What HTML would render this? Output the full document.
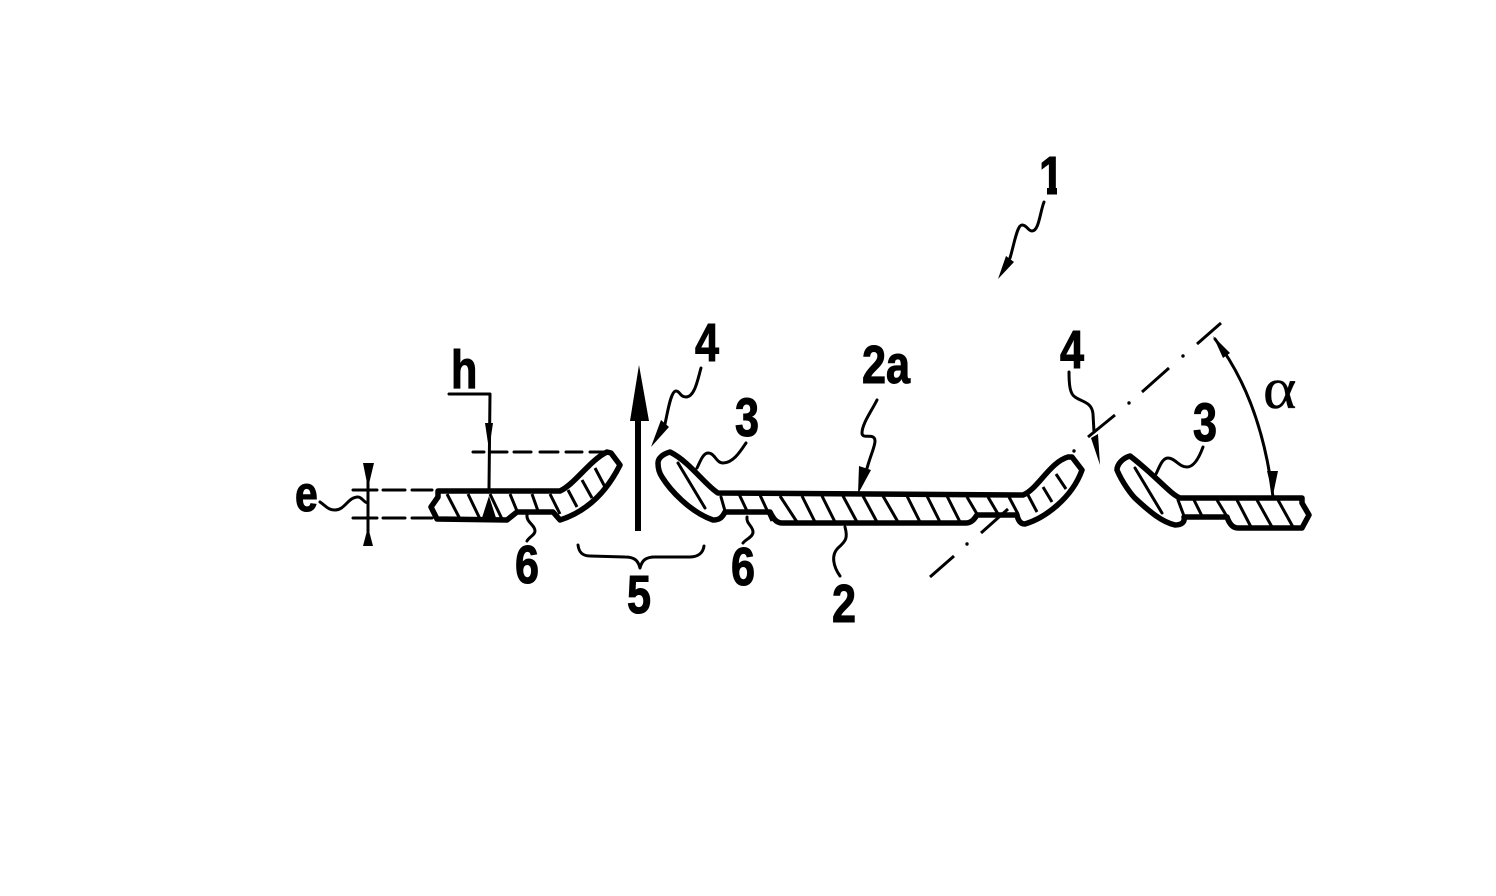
<!DOCTYPE html>
<html>
<head>
<meta charset="utf-8">
<style>
html,body{margin:0;padding:0;background:#fff;width:1496px;height:896px;overflow:hidden}
svg{display:block}
text{font-family:"Liberation Sans",sans-serif;font-weight:bold;fill:#000;stroke:#000;stroke-width:1.1}
.o{fill:none;stroke:#000;stroke-width:5.5;stroke-linejoin:round;stroke-linecap:round}
.h{fill:none;stroke:#000;stroke-width:3}
.t{fill:none;stroke:#000;stroke-width:3;stroke-linecap:round;stroke-linejoin:round}
.c{fill:none;stroke:#000;stroke-width:3}
</style>
</head>
<body>
<svg width="1496" height="896" viewBox="0 0 1496 896" xmlns="http://www.w3.org/2000/svg">
<rect width="1496" height="896" fill="#fff"/>

<!-- Labels -->
<text transform="translate(1039,194) scale(.82,1)" font-size="54">1</text>
<rect x="1030" y="184" width="17" height="14" fill="#fff"/>
<rect x="1057" y="184" width="12" height="14" fill="#fff"/>
<text transform="translate(451,388) scale(.8,1)" font-size="54">h</text>
<text transform="translate(295,511) scale(.82,1)" font-size="50">e</text>
<text transform="translate(515,583) scale(.8,1)" font-size="54">6</text>
<text transform="translate(731,585) scale(.8,1)" font-size="54">6</text>
<text transform="translate(627,613) scale(.8,1)" font-size="54">5</text>
<text transform="translate(832,622) scale(.8,1)" font-size="54">2</text>
<text transform="translate(862,383) scale(.8,1)" font-size="54">2a</text>
<text transform="translate(695,361) scale(.8,1)" font-size="54">4</text>
<text transform="translate(1060,368) scale(.8,1)" font-size="54">4</text>
<text transform="translate(735,436) scale(.8,1)" font-size="54">3</text>
<text transform="translate(1193,441) scale(.8,1)" font-size="54">3</text>
<text transform="translate(1263,408) scale(1.1,1)" font-size="58" style="font-family:'Liberation Serif',serif;font-weight:normal;stroke-width:.4">α</text>

<!-- Left piece -->
<path class="o" d="M438,491 L560,491 C575,484 590,460 607,452 L611,453 L620,465 C605,495 585,512 560,520 L553,512 L517,512 L507,520 L437,519 L431,507 L438,497 Z"/>
<g class="h">
<path d="M447,494 L460,519"/><path d="M468,494 L480,519"/><path d="M490,494 L502,519"/>
<path d="M510,494 L517,511"/><path d="M532,494 L538,511"/><path d="M550,494 L560,514"/>
<path d="M568,490 L577,507"/><path d="M582,480 L592,498"/><path d="M595,468 L605,487"/>
</g>

<!-- Main centre piece -->
<path class="o" d="M670,452 C663,454 658,458 658,463 C658,470 660,474 662,477 C670,490 690,512 713,520 C719,520 722,518 725,512 L770,512 C773,518 776,523 782,523 L966,523 C972,523 975,518 977,515 L1017,515 C1018,520 1020,524 1025,524 C1045,518 1072,498 1082,470 L1072,457 L1068,457 C1050,462 1037,490 1023,495 L718,493 C705,485 690,462 670,452 Z"/>
<path class="t" d="M678,463 L705,508"/>
<path class="t" d="M721,497 L725,511"/>
<g class="h">
<path d="M739,494 L747,511"/><path d="M760,495 L772,521"/>
<path d="M780,496 L797,522"/><path d="M802,496 L815,522"/><path d="M822,496 L835,522"/>
<path d="M843,496 L857,522"/><path d="M863,496 L877,522"/><path d="M883,496 L898,522"/>
<path d="M907,496 L920,522"/><path d="M927,496 L940,522"/><path d="M947,496 L960,522"/>
<path d="M967,497 L977,514"/><path d="M988,497 L998,514"/><path d="M1009,497 L1018,514"/>
<path d="M1028,495 L1037,512"/><path d="M1043,487 L1052,502"/><path d="M1056,474 L1066,489"/>
</g>

<!-- Right piece -->
<path class="o" d="M1130,456 C1123,458 1117,464 1117,470 C1122,482 1132,496 1137,500 C1150,512 1162,522 1175,525 C1182,525 1185,522 1184,517 L1227,517 C1229,523 1232,528 1238,528 L1302,528 L1309,515 L1302,503 L1302,498 L1180,498 C1170,494 1155,475 1130,456 Z"/>
<path class="t" d="M1135,468 L1162,513"/>
<path class="t" d="M1178,500 L1184,516"/>
<g class="h">
<path d="M1194,500 L1202,516"/><path d="M1217,500 L1229,520"/><path d="M1237,500 L1251,527"/>
<path d="M1257,500 L1272,527"/><path d="M1278,500 L1293,527"/>
</g>

<!-- h dimension -->
<path class="t" d="M449,394 L490,394 L489,488"/>
<path d="M485,423 L493,423 L489,450 Z" fill="#000"/>
<path d="M489,496 L497,521 L481,521 Z" fill="#000"/>
<path class="t" d="M473,452 h11 M491,452 h16 M514,452 h17 M540,452 h18 M566,452 h16 M590,452 h14"/>

<!-- e dimension -->
<path class="t" d="M368,470 L368,540"/>
<path d="M363,463 L374,463 L368,488 Z" fill="#000"/>
<path d="M368,527 L373,546 L363,546 Z" fill="#000"/>
<path class="t" d="M353,490 h24 M383,490 h22 M412,490 h20 M353,518 h24 M383,518 h22 M412,518 h20"/>
<path class="t" d="M320,502 C326,506 328,510 335,510 C345,510 348,497 358,497 C362,497 364,503 368,503"/>

<!-- Large flow arrow -->
<path d="M635,421 L641,421 L641,531 L635,531 Z" fill="#000"/>
<path d="M639,365 L649,421 L630,421 Z" fill="#000"/>

<!-- Brace 5 -->
<path class="t" d="M578,545 C579,553 583,556 590,556 L625,557 C634,557 638,560 640,568 C642,560 646,557 655,557 L690,557 C698,557 703,553 704,546"/>

<!-- Squiggle leaders -->
<path class="t" d="M527,515 C526,522 535,525 535,531 C535,535 529,537 527,541"/>
<path class="t" d="M747,517 C746,524 753,526 753,532 C753,537 746,539 743,543"/>
<path class="t" d="M746,443 C740,452 733,463 723,463 C716,463 715,453 708,453 C703,453 700,462 697,468"/>
<path class="t" d="M1203,447 C1199,458 1194,467 1187,467 C1179,467 1175,458 1168,458 C1162,458 1159,468 1156,474"/>
<path class="t" d="M845,527 C848,538 846,541 838,548 C831,555 833,566 840,576"/>
<path class="t" d="M877,400 C871,412 862,424 862,433 C862,440 875,432 875,441 C875,447 870,456 866,472"/>
<path d="M858,494 L859,466 L871,470 Z" fill="#000"/>
<path class="t" d="M701,368 C698,378 695,397 686,397 C680,397 680,391 676,391 C671,391 668,410 665,424"/>
<path d="M651,447 L661,420 L669,427 Z" fill="#000"/>
<path class="t" d="M1044,202 C1040,212 1039,231 1032,231 C1028,231 1027,225 1022,225 C1017,225 1014,245 1010,258"/>
<path d="M998,279 L1006,256 L1014,262 Z" fill="#000"/>
<path class="t" d="M1069,372 C1069,385 1070,394 1075,397 C1082,402 1092,402 1093,414 L1094,432"/>
<path d="M1100,465 L1091,438 L1098,434 Z" fill="#000"/>

<!-- Centre line -->
<path class="c" d="M1221,323 L1197,344 M1169,368 L1142,392 M1115,415 L1088,437 M1008,509 L981,533 M954,556 L930,577"/>
<circle cx="1183" cy="356" r="1.7"/><circle cx="1129" cy="403" r="1.7"/><circle cx="1074" cy="451" r="1.7"/><circle cx="967" cy="544" r="1.7"/>

<!-- Alpha arc -->
<path class="t" d="M1215,339 C1245,378 1265,430 1273,497"/>
<path d="M1213,336 L1230,353 L1223,358 Z" fill="#000"/>
<path d="M1273,495 L1267,471 L1278,471 Z" fill="#000"/>
</svg>
</body>
</html>
